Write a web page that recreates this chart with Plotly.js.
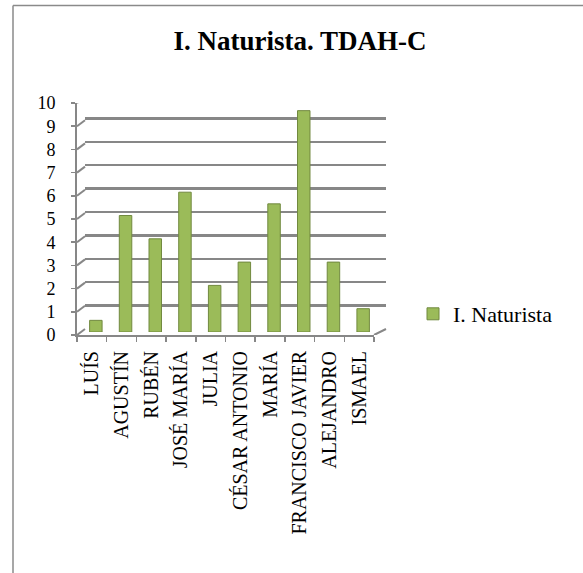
<!DOCTYPE html>
<html>
<head>
<meta charset="utf-8">
<script src="https://cdn.plot.ly/plotly-3.0.1.min.js"></script>
<style>html,body{margin:0;padding:0;background:#fff;}#chart{width:583px;height:573px;}</style>
</head>
<body>
<div id="chart"></div>
<script>
var categories = ["LUÍS","AGUSTÍN","RUBÉN","JOSÉ MARÍA","JULIA","CÉSAR ANTONIO","MARÍA","FRANCISCO JAVIER","ALEJANDRO","ISMAEL"];
var values = [0.5, 5, 4, 6, 2, 3, 5.5, 9.5, 3, 1];
var seriesName = "I. Naturista";
var yTicks = [0,1,2,3,4,5,6,7,8,9,10];
var chartTitle = "I. Naturista. TDAH-C";

var W = 583, H = 573;
function px(x){ return x / W; }
function py(y){ return 1 - y / H; }
var grey = "#878787";

var shapes = [];
// left wall connectors (front axis to back wall)
yTicks.forEach(function(v){
  shapes.push({type:"line", xref:"paper", yref:"y", xsizemode:"pixel", ysizemode:"pixel",
    xanchor:px(77), yanchor:v, x0:0, x1:8, y0:0, y1:6, line:{color:grey, width:2}});
});
// floor right connector
shapes.push({type:"line", xref:"paper", yref:"y", xsizemode:"pixel", ysizemode:"pixel",
  xanchor:px(374), yanchor:yTicks[0], x0:0, x1:12, y0:0, y1:6, line:{color:grey, width:2}});
// outer frame (top and left)
shapes.push({type:"line", xref:"paper", yref:"paper", x0:px(13), x1:1, y0:py(5.5), y1:py(5.5), line:{color:"#8a8a8a", width:1.5}});
shapes.push({type:"line", xref:"paper", yref:"paper", x0:px(13), x1:px(13), y0:py(5.5), y1:0, line:{color:"#8a8a8a", width:1.5}});

var traces = [
  {type:"scatter", x:[], y:[], xaxis:"x2", yaxis:"y2", showlegend:false, hoverinfo:"skip"},
  {type:"bar", name:seriesName, x:categories, y:values, xaxis:"x3", yaxis:"y3", width:0.42,
   marker:{color:"#9bbb59", line:{color:"#71893f", width:1}}}
];

var layout = {
  width:W, height:H, margin:{l:0,r:0,t:0,b:0},
  paper_bgcolor:"#fff", plot_bgcolor:"rgba(0,0,0,0)",
  showlegend:true,
  title:{text:chartTitle, x:px(300), xanchor:"center", xref:"paper", y:py(41), yanchor:"middle", yref:"paper",
    font:{family:"Liberation Serif", size:27, color:"#000", weight:"bold"}},
  xaxis:{domain:[px(77), px(374)], anchor:"y", type:"category", categoryarray:categories, range:[-0.5, 9.5],
    showline:true, linecolor:grey, linewidth:2, ticks:"outside", tickson:"boundaries", ticklen:5, tickwidth:1.5, tickcolor:grey,
    tickangle:-90, ticklabelstandoff:6, tickfont:{family:"Liberation Serif", size:20, color:"#000"}, showgrid:false, zeroline:false, fixedrange:true},
  yaxis:{domain:[py(335), py(103)], anchor:"x", range:[0,10], tickvals:yTicks, ticktext:yTicks.map(String),
    showline:true, linecolor:grey, linewidth:2, ticks:"outside", ticklen:4, tickwidth:1.5, tickcolor:grey,
    ticklabelstandoff:12, tickfont:{family:"Liberation Serif", size:18, color:"#000"}, showgrid:false, zeroline:false, fixedrange:true},
  xaxis2:{domain:[px(85), px(386)], anchor:"y2", range:[0,1], visible:false, fixedrange:true},
  yaxis2:{domain:[py(329), py(95)], anchor:"x2", range:[0,10], tickvals:yTicks, showticklabels:false, ticks:"",
    showgrid:true, gridcolor:grey, gridwidth:2.5, zeroline:false, showline:false, fixedrange:true},
  xaxis3:{domain:[px(81), px(378)], anchor:"y3", type:"category", categoryarray:categories, range:[-0.5,9.5], visible:false, fixedrange:true},
  yaxis3:{domain:[py(332), py(99)], anchor:"x3", range:[0,10], visible:false, fixedrange:true},
  legend:{x:px(413), xanchor:"left", y:py(314), yanchor:"middle", font:{family:"Liberation Serif", size:22, color:"#000"}, bgcolor:"rgba(0,0,0,0)"},
  shapes:shapes
};

Plotly.newPlot("chart", traces, layout, {displayModeBar:false, staticPlot:true});
</script>
</body>
</html>
